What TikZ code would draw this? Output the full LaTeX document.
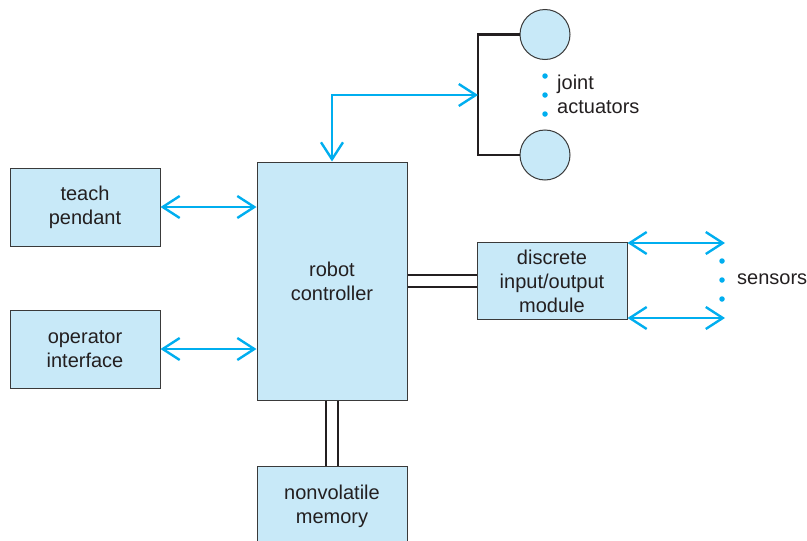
\documentclass[tikz,border=0pt]{standalone}
\usepackage{fontspec}
\setmainfont{Liberation Sans}
\usetikzlibrary{arrows.meta}
\definecolor{boxfill}{HTML}{C8E9F8}
\definecolor{boxline}{HTML}{3A3A3A}
\definecolor{cyanline}{HTML}{00AEEF}
\definecolor{txt}{HTML}{231F20}
\tikzset{
  blk/.style={draw=boxline, line width=1pt, fill=boxfill, minimum width=150pt, align=center, text=txt, font=\fontsize{20}{24}\selectfont, inner sep=0pt},
  biarrow/.style={draw=cyanline, line width=2.4pt, {Straight Barb[length=17pt,width=22pt,line width=2.4pt]}-{Straight Barb[length=17pt,width=22pt,line width=2.4pt]}},
  bus/.style={draw=txt, line width=2.6pt},
  actu/.style={circle, draw=boxline, line width=1pt, fill=boxfill, minimum size=50pt, inner sep=0pt},
  bdot/.style={circle, fill=cyanline, inner sep=0pt, minimum size=5.5pt},
  lbl/.style={text=txt, font=\fontsize{20}{24}\selectfont, anchor=west, inner sep=0pt, align=left}
}
\begin{document}
\begin{tikzpicture}[x=1pt,y=-1pt]
\useasboundingbox (0,0) rectangle (807,541);
% boxes
\node[blk, minimum height=78pt] (teach) at (85,207) {teach\\pendant};
\node[blk, minimum height=78pt] (oper) at (85,349) {operator\\interface};
\node[blk, minimum height=238pt] (ctrl) at (332,281) {robot\\controller};
\node[blk, minimum height=80pt] (mem) at (332,506) {nonvolatile\\memory};
\node[blk, minimum height=77pt] (io) at (552,281) {discrete\\input/output\\module};
% actuators
\node[actu] (c1) at (545,34.5) {};
\node[actu] (c2) at (545,155) {};
\coordinate (br) at (478,95);
\draw[draw=txt, line width=2.6pt] (c1.west) -| (br) |- (c2.west);
\draw[biarrow] (ctrl.north) |- (br);
\node[bdot] (d1) at (545,76) {};
\node[bdot] (d2) at (545,95) {};
\node[bdot] (d3) at (545,114) {};
\node[lbl] (ja) at (557,94) {joint\\actuators};
% left arrows
\draw[biarrow] (teach.east) -- (teach.east -| ctrl.west);
\draw[biarrow] (oper.east) -- (oper.east -| ctrl.west);
% buses
\draw[bus] ([yshift=6pt]ctrl.east) -- ([yshift=6pt]io.west);
\draw[bus] ([yshift=-6pt]ctrl.east) -- ([yshift=-6pt]io.west);
\draw[bus] ([xshift=-6pt]ctrl.south) -- ([xshift=-6pt]mem.north);
\draw[bus] ([xshift=6pt]ctrl.south) -- ([xshift=6pt]mem.north);
% sensors
\coordinate (s1) at (725,243);
\coordinate (s2) at (725,318);
\draw[biarrow] (io.east |- s1) -- (s1);
\draw[biarrow] (io.east |- s2) -- (s2);
\node[bdot] (e1) at (722,261) {};
\node[bdot] (e2) at (722,280) {};
\node[bdot] (e3) at (722,299) {};
\node[lbl] (sn) at (737,279) {sensors};
\end{tikzpicture}
\end{document}
